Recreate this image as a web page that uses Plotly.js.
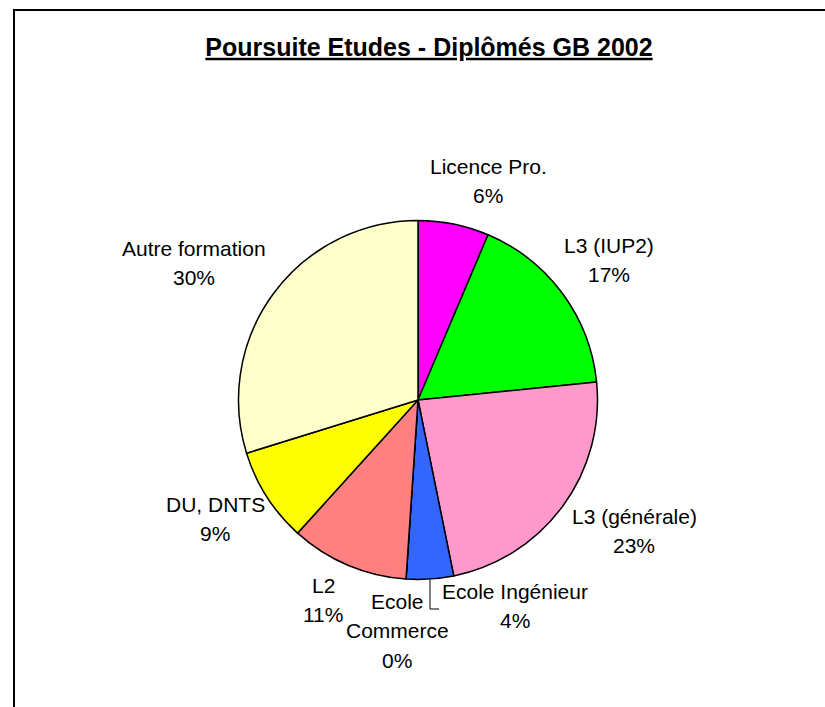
<!DOCTYPE html>
<html>
<head>
<meta charset="utf-8">
<script src="https://cdn.plot.ly/plotly-3.0.1.min.js"></script>
<style>html,body{margin:0;padding:0;background:#fff;}#chart{width:825px;height:707px;}</style>
</head>
<body>
<div id="chart"></div>
<script>
// ---- data ----
var categories = ['Licence Pro.', 'L3 (IUP2)', 'L3 (générale)', 'Ecole Ingénieur', 'Ecole Commerce', 'L2', 'DU, DNTS', 'Autre formation'];
var counts = [3, 8, 11, 2, 0, 5, 4, 14];
var colors = ['#FF00FF', '#00FF00', '#FF99CC', '#3366FF', '#993366', '#FF8080', '#FFFF00', '#FFFFCC'];
var titleText = 'Poursuite Etudes - Diplômés GB 2002';

// ---- layout helpers (pixel space; margins are zero so paper == page) ----
var W = 825, H = 707;
function px(x) { return x / W; }
function py(y) { return 1 - y / H; }
var cx = 418, cy = 400, R = 179.5;
var FS = 21, LINE = 29.5;
// label anchor: [center x, baseline of first line] in pixels
var labelPos = [[488, 174], [609, 253], [634, 524], [515, 599], [397, 609], [323, 593], [215, 512], [194, 256]];
var wrapName = [false, false, false, false, true, false, false, false];

var total = counts.reduce(function (a, b) { return a + b; }, 0);
var font = {family: 'Liberation Sans, Arial, sans-serif', size: FS, color: '#000'};
var annotations = [];
function addLine(txt, x, base) {
  annotations.push({
    text: txt, xref: 'paper', yref: 'paper', x: px(x), y: py(base - FS * 0.36),
    xanchor: 'center', yanchor: 'middle', showarrow: false, font: font
  });
}
categories.forEach(function (c, i) {
  var lines = wrapName[i] ? c.split(' ') : [c];
  lines.push(Math.round(counts[i] / total * 100) + '%');
  lines.forEach(function (t, k) { addLine(t, labelPos[i][0], labelPos[i][1] + k * LINE); });
});

// leader line for the displaced "Ecole Ingénieur" label, from its slice's mid-angle
var shapes = [];
(function () {
  var i = 3, before = 0;
  for (var k = 0; k < i; k++) before += counts[k];
  var mid = (before + counts[i] / 2) / total * 2 * Math.PI;
  var sx = cx + R * Math.sin(mid), sy = cy - R * Math.cos(mid);
  var ey = labelPos[i][1] + 10, ex = labelPos[i][0] - 71 - 5;
  shapes.push({
    type: 'path', xref: 'paper', yref: 'paper',
    path: 'M' + px(sx) + ',' + py(sy) + ' L' + px(sx) + ',' + py(ey) + ' L' + px(ex) + ',' + py(ey),
    line: {color: '#000', width: 1}
  });
})();
// chart frame
shapes.push({type: 'rect', xref: 'paper', yref: 'paper', x0: px(14), x1: 1.05, y0: -0.05, y1: py(10),
  line: {color: '#000', width: 2}, fillcolor: 'rgba(0,0,0,0)'});

var trace = {
  type: 'pie',
  labels: categories,
  values: counts,
  sort: false,
  direction: 'clockwise',
  rotation: 0,
  textinfo: 'none',
  hoverinfo: 'label+percent',
  marker: {colors: colors, line: {color: '#000', width: 1.5}},
  domain: {x: [px(cx - R), px(cx + R)], y: [py(cy + R), py(cy - R)]},
  showlegend: false
};

var layout = {
  width: W, height: H,
  margin: {l: 0, r: 0, t: 0, b: 0},
  paper_bgcolor: '#fff',
  showlegend: false,
  title: {
    text: '<b>' + titleText + '</b>',
    x: 0.52, xanchor: 'center', y: py(47), yanchor: 'middle', yref: 'paper',
    font: {family: 'Liberation Sans, Arial, sans-serif', size: 25, color: '#000', lineposition: 'under'}
  },
  annotations: annotations,
  shapes: shapes
};

Plotly.newPlot('chart', [trace], layout, {displayModeBar: false, staticPlot: true});
</script>
</body>
</html>
